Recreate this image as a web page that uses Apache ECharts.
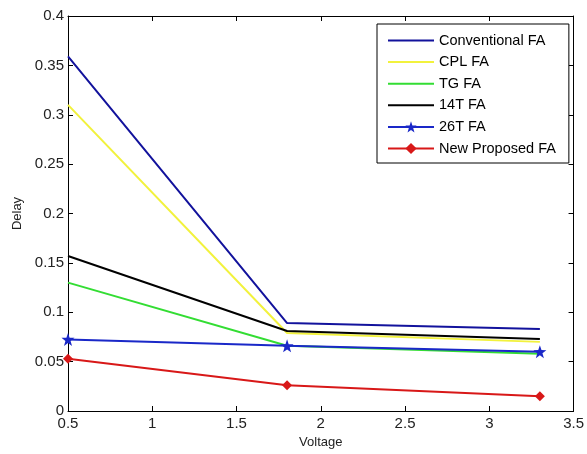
<!DOCTYPE html>
<html>
<head>
<meta charset="utf-8">
<script src="https://cdn.jsdelivr.net/npm/echarts@6/dist/echarts.min.js"></script>
<style>html,body{margin:0;padding:0;background:#fff;}#c{width:587px;height:454px;}</style>
</head>
<body>
<div id="c"></div>
<script>
var voltage = [0.5, 1.8, 3.3];
var conventionalFA = [0.359, 0.089, 0.083];
var cplFA = [0.310, 0.079, 0.070];
var tgFA = [0.130, 0.066, 0.058];
var t14FA = [0.157, 0.081, 0.073];
var t26FA = [0.0725, 0.066, 0.060];
var newProposedFA = [0.053, 0.026, 0.015];
var seriesNames = ['Conventional FA', 'CPL FA', 'TG FA', '14T FA', '26T FA', 'New Proposed FA'];

function pts(ys) { return voltage.map(function (x, i) { return [x, ys[i]]; }); }

var font = 'Liberation Sans, Arial, sans-serif';
var lineIcon = 'path://M0,0 L46,0 L46,2 L0,2 Z';
var chart = echarts.init(document.getElementById('c'), null, { renderer: 'canvas' });
function mk(name, ys, color, symbol, size) {
  return {
    name: name, type: 'line', data: pts(ys),
    symbol: symbol || 'none', symbolSize: size || 0, showSymbol: !!symbol,
    lineStyle: { color: color, width: 2 }, itemStyle: { color: color },
    animation: false
  };
}
chart.setOption({
  animation: false,
  backgroundColor: '#fff',
  textStyle: { fontFamily: font },
  grid: { left: 68, right: 12, top: 16, bottom: 39, containLabel: false },
  legend: {
    data: [
      { name: seriesNames[0], icon: lineIcon },
      { name: seriesNames[1], icon: lineIcon },
      { name: seriesNames[2], icon: lineIcon },
      { name: seriesNames[3], icon: lineIcon },
      { name: seriesNames[4] },
      { name: seriesNames[5] }
    ],
    orient: 'vertical', left: 377, top: 24,
    padding: [9, 13, 7, 10],
    itemWidth: 46, itemHeight: 14, itemGap: 6.6,
    backgroundColor: '#fff', borderColor: '#000', borderWidth: 1,
    textStyle: { fontFamily: font, fontSize: 14.5, color: '#000', padding: [0, 0, 0, 0] }
  },
  xAxis: [{
    type: 'value', min: 0.5, max: 3.5, interval: 0.5,
    name: 'Voltage', nameLocation: 'middle', nameGap: 25,
    nameTextStyle: { fontFamily: font, fontSize: 13, color: '#222' },
    axisLine: { show: true, onZero: false, lineStyle: { color: '#000', width: 1 } },
    axisTick: { show: true, inside: true, length: 5, lineStyle: { color: '#000' } },
    axisLabel: { margin: 5, fontFamily: font, fontSize: 15, color: '#222' },
    splitLine: { show: false }
  }, {
    type: 'value', min: 0.5, max: 3.5, interval: 0.5, position: 'top',
    axisLine: { show: true, onZero: false, lineStyle: { color: '#000', width: 1 } },
    axisTick: { show: true, inside: true, length: 5, lineStyle: { color: '#000' } },
    axisLabel: { show: false }, splitLine: { show: false }
  }],
  yAxis: [{
    type: 'value', min: 0, max: 0.4, interval: 0.05,
    name: 'Delay', nameLocation: 'middle', nameGap: 44, nameRotate: 90,
    nameTextStyle: { fontFamily: font, fontSize: 13, color: '#222' },
    axisLine: { show: true, onZero: false, lineStyle: { color: '#000', width: 1 } },
    axisTick: { show: true, inside: true, length: 5, lineStyle: { color: '#000' } },
    axisLabel: { margin: 4, fontFamily: font, fontSize: 15, color: '#222' },
    splitLine: { show: false }
  }, {
    type: 'value', min: 0, max: 0.4, interval: 0.05, position: 'right',
    axisLine: { show: true, onZero: false, lineStyle: { color: '#000', width: 1 } },
    axisTick: { show: true, inside: true, length: 5, lineStyle: { color: '#000' } },
    axisLabel: { show: false }, splitLine: { show: false }
  }],
  series: [
    mk(seriesNames[0], conventionalFA, '#12129c'),
    mk(seriesNames[1], cplFA, '#f2f23c'),
    mk(seriesNames[2], tgFA, '#33dd33'),
    mk(seriesNames[3], t14FA, '#000000'),
    mk(seriesNames[4], t26FA, '#1a28c8', 'path://M0,-10 L2.35,-3.24 L9.51,-3.09 L3.8,1.24 L5.88,8.09 L0,4 L-5.88,8.09 L-3.8,1.24 L-9.51,-3.09 L-2.35,-3.24 Z', 13),
    mk(seriesNames[5], newProposedFA, '#d81818', 'diamond', 10)
  ]
});
</script>
</body>
</html>
